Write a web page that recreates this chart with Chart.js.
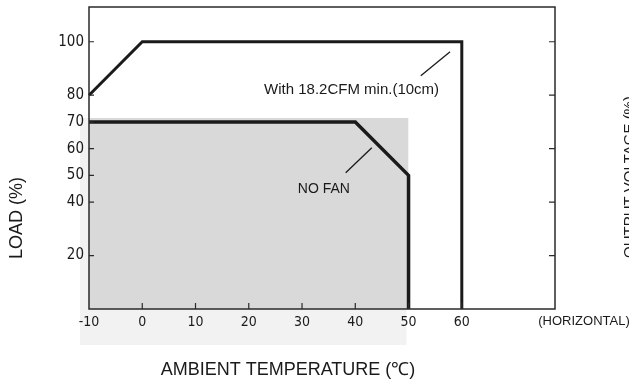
<!DOCTYPE html>
<html>
<head>
<meta charset="UTF-8">
<title>Derating Curve</title>
<script src="https://cdn.jsdelivr.net/npm/chart.js@4.4.1/dist/chart.umd.min.js"></script>
<style>
    html, body { margin: 0; padding: 0; background: #fff; }
    #wrap { width: 629px; height: 384px; }
</style>
</head>
<body>
<div id="wrap"><canvas id="derating"></canvas></div>
<script>
// Derating curve values (ambient temp in C, load in %)
const tempTicks = [-10, 0, 10, 20, 30, 40, 50, 60];
const loadTicks = [20, 40, 50, 60, 70, 80, 100];
const rightTicks = [20, 40, 60, 80, 100];

const fanTemp = [-10, 0, 60, 60];
const fanLoad = [80, 100, 100, 0];

const noFanTemp = [-10, 40, 50, 50];
const noFanLoad = [70, 70, 50, 0];

const shadeTemp = [-10, 50];
const shadeLoad = [71.5, 71.5];

const noteText = ['With 18.2CFM min.(10cm)', 'NO FAN'];
const noteTemp = [39.3, 34.1];
const noteLoad = [82, 45];
const leaderFrom = [[52.3, 87.3], [38.2, 51]];
const leaderTo = [[57.8, 96.3], [43.1, 60.3]];

const INK = '#1a1a1a';
const NARROW = "'Liberation Sans Narrow', 'Arial Narrow', 'DejaVu Sans Condensed', Arial, sans-serif";
const SANS = "'Liberation Sans', Arial, Helvetica, sans-serif";

function toPoints(xs, ys) {
    return xs.map((x, i) => ({ x: x, y: ys[i] }));
}

// paper background + the lighter scanned band behind the shaded area
const paperPlugin = {
    id: 'paper',
    beforeDraw(chart) {
        const { ctx, scales: { x, y } } = chart;
        ctx.save();
        ctx.fillStyle = '#ffffff';
        ctx.fillRect(0, 0, chart.width, chart.height);
        ctx.fillStyle = '#f2f2f2';
        const left = x.getPixelForValue(-10) - 9;
        const right = x.getPixelForValue(50) - 2;
        const top = y.getPixelForValue(shadeLoad[0]);
        ctx.fillRect(left, top, right - left, y.bottom + 36 - top);
        ctx.restore();
    }
};

// frame, inward tick marks and all the free text
const framePlugin = {
    id: 'frame',
    afterDraw(chart) {
        const { ctx, chartArea: a, scales: { x, y } } = chart;
        ctx.save();
        ctx.strokeStyle = '#2a2a2a';
        ctx.lineWidth = 1.5;
        ctx.strokeRect(a.left, a.top, a.right - a.left, a.bottom - a.top);

        ctx.lineWidth = 1.2;
        ctx.beginPath();
        tempTicks.slice(1).forEach(t => {
            const px = x.getPixelForValue(t);
            ctx.moveTo(px, a.bottom);
            ctx.lineTo(px, a.bottom - 6);
        });
        loadTicks.forEach(v => {
            const py = y.getPixelForValue(v);
            ctx.moveTo(a.left, py);
            ctx.lineTo(a.left + 5, py);
        });
        rightTicks.forEach(v => {
            const py = y.getPixelForValue(v);
            ctx.moveTo(a.right, py);
            ctx.lineTo(a.right - 6, py);
        });
        ctx.stroke();

        // leader lines
        ctx.strokeStyle = INK;
        ctx.lineWidth = 1.3;
        ctx.beginPath();
        leaderFrom.forEach((p, i) => {
            ctx.moveTo(x.getPixelForValue(p[0]), y.getPixelForValue(p[1]));
            ctx.lineTo(x.getPixelForValue(leaderTo[i][0]), y.getPixelForValue(leaderTo[i][1]));
        });
        ctx.stroke();

        ctx.fillStyle = INK;
        ctx.textAlign = 'center';
        ctx.textBaseline = 'middle';
        noteText.forEach((t, i) => {
            ctx.font = (i === 0 ? '15px ' : '14px ') + SANS;
            ctx.fillText(t, x.getPixelForValue(noteTemp[i]), y.getPixelForValue(noteLoad[i]));
        });

        // (HORIZONTAL) after the last temperature label
        ctx.font = '13px ' + SANS;
        ctx.fillText('(HORIZONTAL)', a.right + 29, a.bottom + 12);

        // axis titles
        ctx.font = '18px ' + SANS;
        ctx.fillText('AMBIENT TEMPERATURE (\u2103)', a.left + 199, a.bottom + 61);

        ctx.save();
        ctx.translate(a.left - 72, a.top + 211);
        ctx.rotate(-Math.PI / 2);
        ctx.fillText('LOAD (%)', 0, 0);
        ctx.restore();

        // right axis title, mostly cut off by the page edge
        ctx.save();
        ctx.translate(a.right + 67, a.top + 251);
        ctx.rotate(-Math.PI / 2);
        ctx.textAlign = 'left';
        ctx.textBaseline = 'top';
        ctx.font = '15px ' + SANS;
        ctx.fillText('OUTPUT VOLTAGE (%)', 0, 0);
        ctx.restore();

        ctx.restore();
    }
};

function initDeratingChart() {
    const ctx = document.getElementById('derating').getContext('2d');
    new Chart(ctx, {
        type: 'line',
        data: {
            datasets: [
                {
                    label: 'shade',
                    data: toPoints(shadeTemp, shadeLoad),
                    borderWidth: 0,
                    backgroundColor: '#d9d9d9',
                    fill: 'origin',
                    pointRadius: 0,
                    order: 3
                },
                {
                    label: 'With 18.2CFM',
                    data: toPoints(fanTemp, fanLoad),
                    borderColor: INK,
                    borderWidth: 3,
                    borderJoinStyle: 'miter',
                    fill: false,
                    pointRadius: 0,
                    clip: false,
                    order: 1
                },
                {
                    label: 'No fan',
                    data: toPoints(noFanTemp, noFanLoad),
                    borderColor: INK,
                    borderWidth: 3.5,
                    borderJoinStyle: 'miter',
                    fill: false,
                    pointRadius: 0,
                    clip: false,
                    order: 2
                }
            ]
        },
        options: {
            responsive: true,
            maintainAspectRatio: false,
            animation: false,
            events: [],
            layout: { padding: { top: 7, right: 74, left: 0, bottom: 0 } },
            plugins: {
                legend: { display: false },
                tooltip: { enabled: false }
            },
            scales: {
                x: {
                    type: 'linear',
                    min: -10,
                    max: 77.5,
                    afterBuildTicks: s => { s.ticks = tempTicks.map(v => ({ value: v })); },
                    afterFit: s => { s.height = 75; s.paddingLeft = 0; s.paddingRight = 0; },
                    grid: { display: false, drawTicks: false, tickLength: 0 },
                    border: { display: false },
                    ticks: {
                        color: INK,
                        padding: 5,
                        maxRotation: 0,
                        font: { family: NARROW, size: 14 }
                    }
                },
                y: {
                    type: 'linear',
                    min: 0,
                    max: 113,
                    afterBuildTicks: s => { s.ticks = loadTicks.map(v => ({ value: v })); },
                    afterFit: s => { s.width = 89; s.paddingTop = 0; s.paddingBottom = 0; },
                    grid: { display: false, drawTicks: false, tickLength: 0 },
                    border: { display: false },
                    ticks: {
                        color: INK,
                        padding: 5,
                        font: { family: NARROW, size: 15 }
                    }
                }
            }
        },
        plugins: [paperPlugin, framePlugin]
    });
}

document.addEventListener('DOMContentLoaded', initDeratingChart);
</script>
</body>
</html>
